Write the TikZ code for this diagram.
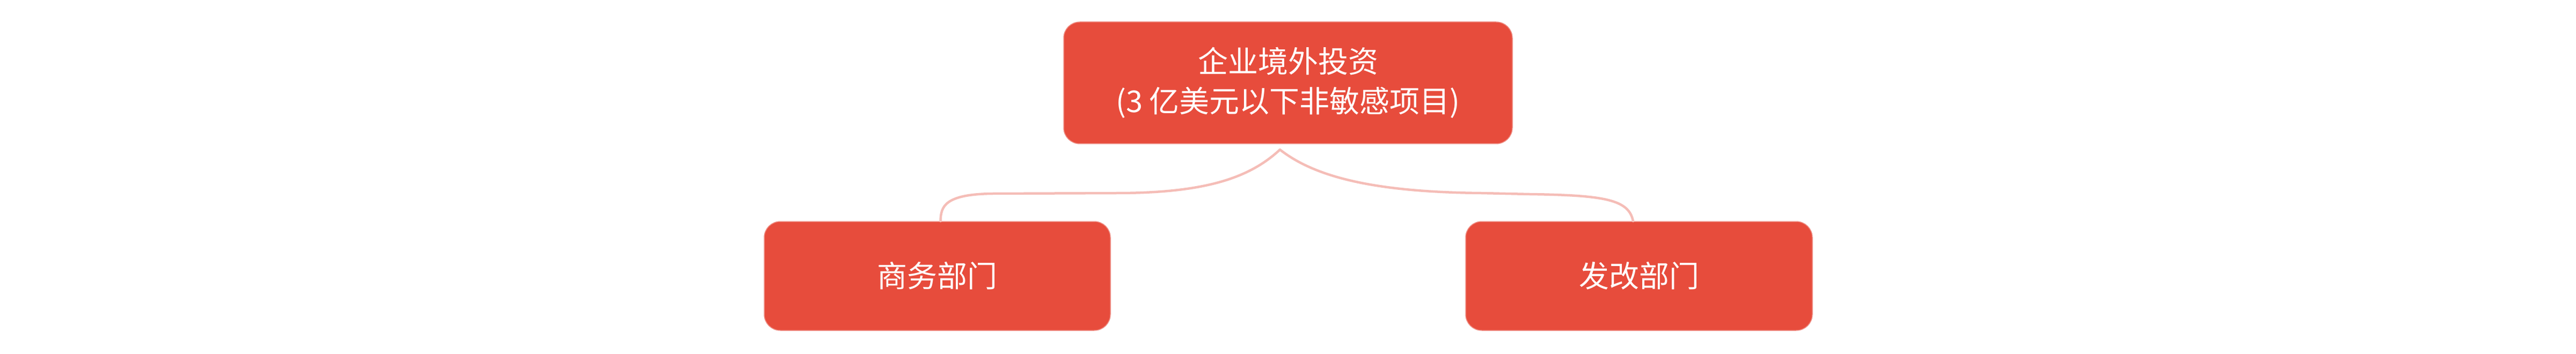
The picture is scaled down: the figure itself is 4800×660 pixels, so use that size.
\documentclass[tikz,border=0pt]{standalone}
\usepackage{fontspec}
\newfontfamily\cjk{Noto Sans CJK SC}
\definecolor{boxred}{HTML}{E74C3C}
\definecolor{boxrim}{HTML}{EE8A80}
\definecolor{linkpink}{HTML}{F5BDB7}
\begin{document}
\begin{tikzpicture}[x=1pt,y=-1pt,
  topic/.style={draw=boxrim, line width=1.5pt, fill=boxred, rounded corners=30pt,
    inner sep=0pt, text=white, align=center,
    font=\cjk\fontsize{56}{74}\selectfont},
  link/.style={draw=linkpink, line width=4.5pt, line cap=round}]
\useasboundingbox[fill=white] (0,0) rectangle (4800,660);
\node[topic, minimum width=836pt, minimum height=227pt] (T) at (2400,154.5)
  {企业境外投资\\(3 亿美元以下非敏感项目)};
\node[topic, minimum width=645pt, minimum height=203pt] (L) at (1746.5,514.5) {商务部门};
\node[topic, minimum width=646pt, minimum height=203pt] (R) at (3054,514.5) {发改部门};
\coordinate (apex) at (2385,279);
\draw[link] (apex) .. controls (2330,330) and (2250,360) .. (2080,360)
  -- (1850,361) .. controls (1760,362) and (1753,385) .. ([xshift=6pt]L.north);
\draw[link] (apex) .. controls (2450,330) and (2560,358) .. (2760,360)
  -- (2850,362) .. controls (2990,364) and (3035,372) .. ([xshift=-11pt]R.north);
\end{tikzpicture}
\end{document}
